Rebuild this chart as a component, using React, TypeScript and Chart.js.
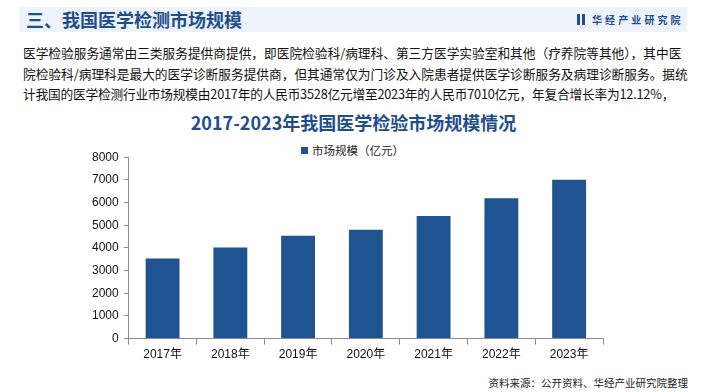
import React, { useEffect, useRef } from "react";
import { Chart, registerables } from "chart.js";

Chart.register(...registerables);

const categories = ["2017年", "2018年", "2019年", "2020年", "2021年", "2022年", "2023年"];
const marketSize = [3528, 4020, 4540, 4800, 5410, 6190, 7010];
const seriesName = "市场规模（亿元）";
const yTicks = [0, 1000, 2000, 3000, 4000, 5000, 6000, 7000, 8000];

const headerTitle = "三、我国医学检测市场规模";
const brand = "华经产业研究院";
const paragraph = [
  "医学检验服务通常由三类服务提供商提供，即医院检验科/病理科、第三方医学实验室和其他（疗养院等其他），其中医",
  "院检验科/病理科是最大的医学诊断服务提供商，但其通常仅为门诊及入院患者提供医学诊断服务及病理诊断服务。据统",
  "计我国的医学检测行业市场规模由2017年的人民币3528亿元增至2023年的人民币7010亿元，年复合增长率为12.12%，",
];
const chartTitle = "2017-2023年我国医学检验市场规模情况";
const source = "资料来源：公开资料、华经产业研究院整理";

const BAR = "#1F5391";
const CJK = '"Noto Sans CJK SC", "Noto Sans", sans-serif';
const AX = '"Liberation Sans", Arial, "Noto Sans CJK SC", sans-serif';

export default function App() {
  const ref = useRef<HTMLCanvasElement | null>(null);

  useEffect(() => {
    document.body.style.margin = "0";
    const ctx = ref.current!.getContext("2d")!;
    const chart = new Chart(ctx, {
      type: "bar",
      data: {
        labels: categories,
        datasets: [
          {
            label: seriesName,
            data: marketSize,
            backgroundColor: BAR,
            borderWidth: 0,
            categoryPercentage: 1,
            barPercentage: 0.5,
          },
        ],
      },
      options: {
        animation: false,
        responsive: false,
        maintainAspectRatio: false,
        layout: { padding: { top: 12, left: 87, right: 102, bottom: 5 } },
        plugins: {
          legend: { display: false },
          title: { display: false },
          tooltip: { enabled: false },
        },
        scales: {
          x: {
            border: { display: true, color: "#8c8c8c", width: 1 },
            grid: {
              display: true,
              drawOnChartArea: false,
              drawTicks: true,
              tickLength: 6,
              color: "#8c8c8c",
              offset: true,
            },
            ticks: {
              color: "#111",
              font: { family: AX, size: 12 },
              padding: 3,
              maxRotation: 0,
            },
          },
          y: {
            min: 0,
            max: 8000,
            border: { display: true, color: "#8c8c8c", width: 1 },
            grid: {
              display: true,
              drawOnChartArea: false,
              drawTicks: true,
              tickLength: 5,
              color: "#8c8c8c",
            },
            afterBuildTicks: (axis: any) => {
              axis.ticks = yTicks.map((v) => ({ value: v }));
            },
            ticks: {
              color: "#111",
              font: { family: AX, size: 12 },
              padding: 5,
              callback: (v: any) => String(v),
            },
          },
        },
      },
    });
    return () => chart.destroy();
  }, []);

  return (
    <div style={{ position: "absolute", left: 0, top: 0, width: 705, height: 392, background: "#fff", overflow: "hidden" }}>
      {/* header band */}
      <div style={{ position: "absolute", left: 19, top: 7, width: 668, height: 25, background: "#EEF3FB" }} />
      <div
        style={{
          position: "absolute",
          left: 26,
          top: 7,
          height: 25,
          lineHeight: "25px",
          fontFamily: CJK,
          fontWeight: 700,
          fontSize: 18,
          color: "#1F4E8C",
          whiteSpace: "nowrap",
        }}
      >
        {headerTitle}
      </div>
      <div style={{ position: "absolute", left: 577, top: 14, width: 3, height: 11, background: "#1F4E8C" }} />
      <div style={{ position: "absolute", left: 582, top: 14, width: 3, height: 11, background: "#1F4E8C" }} />
      <div
        style={{
          position: "absolute",
          left: 592,
          top: 7,
          height: 25,
          lineHeight: "25px",
          fontFamily: CJK,
          fontWeight: 700,
          fontSize: 10,
          letterSpacing: "3.1px",
          color: "#1F4E8C",
          whiteSpace: "nowrap",
        }}
      >
        {brand}
      </div>

      {/* paragraph */}
      {paragraph.map((line, i) => (
        <div
          key={i}
          style={{
            position: "absolute",
            left: 23,
            top: 43 + i * 20.5,
            height: 20,
            lineHeight: "20px",
            fontFamily: CJK,
            fontSize: 12.7,
            letterSpacing: i === 2 ? "-0.2px" : "0px",
            color: "#111",
            whiteSpace: "nowrap",
          }}
        >
          {line}
        </div>
      ))}

      {/* chart title */}
      <div
        style={{
          position: "absolute",
          left: 0,
          width: 707,
          top: 110,
          height: 24,
          lineHeight: "24px",
          textAlign: "center",
          fontFamily: CJK,
          fontWeight: 700,
          fontSize: 18,
          color: "#1F4E8C",
          whiteSpace: "nowrap",
        }}
      >
        {chartTitle}
      </div>

      {/* legend */}
      <div style={{ position: "absolute", left: 301, top: 146.5, width: 7, height: 7, background: BAR }} />
      <div
        style={{
          position: "absolute",
          left: 312,
          top: 141,
          height: 18,
          lineHeight: "18px",
          fontFamily: CJK,
          fontSize: 11.5,
          color: "#222",
          whiteSpace: "nowrap",
        }}
      >
        {seriesName}
      </div>

      <canvas ref={ref} width={705} height={225} style={{ position: "absolute", left: 0, top: 145, width: 705, height: 225 }} />

      {/* source */}
      <div
        style={{
          position: "absolute",
          right: 17,
          top: 375,
          height: 16,
          lineHeight: "16px",
          fontFamily: CJK,
          fontSize: 10.5,
          color: "#222",
          whiteSpace: "nowrap",
        }}
      >
        {source}
      </div>
    </div>
  );
}
